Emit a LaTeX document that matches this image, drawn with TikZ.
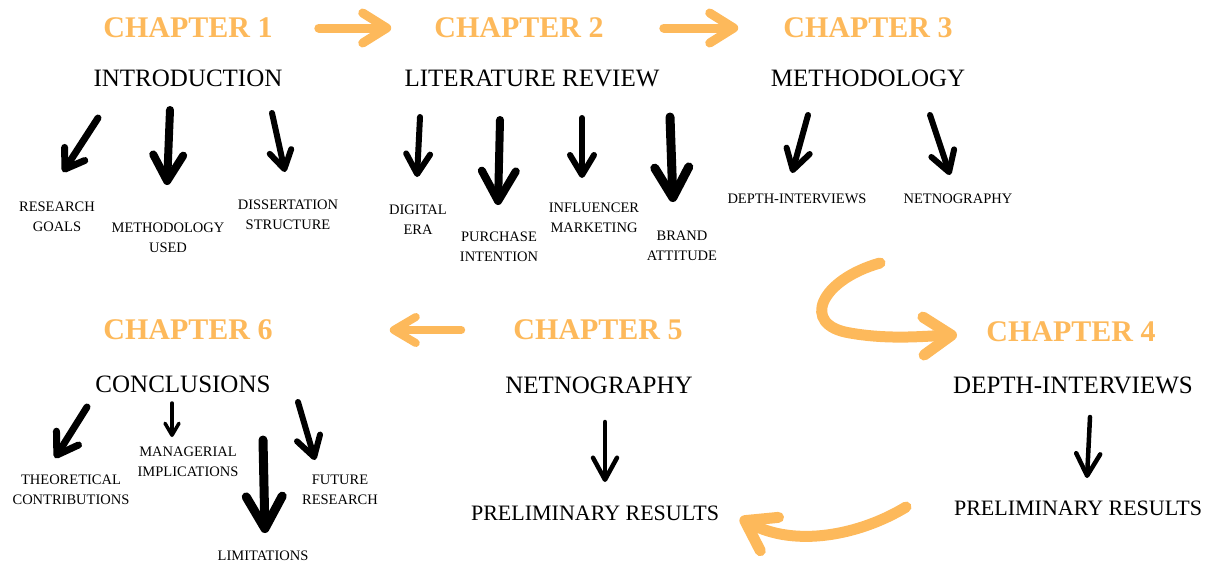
\documentclass[tikz,border=0pt]{standalone}
\usepackage{fontspec}
\setmainfont{Liberation Serif}
\usetikzlibrary{arrows.meta,positioning,calc}
\definecolor{chaporange}{HTML}{FDB95B}

\begin{document}
\begin{tikzpicture}[x=1pt,y=-1pt,
  chap/.style={font=\fontsize{30}{30}\selectfont\bfseries, text=chaporange, inner sep=0pt},
  title/.style={font=\fontsize{25}{25}\selectfont, inner sep=0pt},
  topic/.style={font=\fontsize{14.5}{20}\selectfont, align=center, inner sep=0pt},
  result/.style={font=\fontsize{22}{22}\selectfont, inner sep=0pt},
  flow/.style n args={3}{draw=chaporange, line width=#1, line cap=round,
    -{Straight Barb[round,length=#2,width=#3]}},
  sub/.style n args={3}{draw=black, line width=#1, line cap=round,
    -{Straight Barb[round,length=#2,width=#3]}}]
\useasboundingbox (0,0) rectangle (1215,565);
% Chapters
\node[chap] (ch1) at (188,28) {CHAPTER 1};
\node[chap] (ch2) at (519,28) {CHAPTER 2};
\node[chap] (ch3) at (868,28) {CHAPTER 3};
\node[chap] (ch6) at (188,330) {CHAPTER 6};
\node[chap] (ch5) at (598,330) {CHAPTER 5};
\node[chap] (ch4) at (1071,332) {CHAPTER 4};
% Titles
\node[title] (intro) at (188,78) {INTRODUCTION};
\node[title] (litrev) at (532,78) {LITERATURE REVIEW};
\node[title] (method) at (868,78) {METHODOLOGY};
\node[title] (concl) at (183,384) {CONCLUSIONS};
\node[title] (netno2) at (599,385) {NETNOGRAPHY};
\node[title] (depth2) at (1073,385) {DEPTH-INTERVIEWS};
% Topics
\node[topic] (goals) at (57,217) {RESEARCH\\GOALS};
\node[topic] (used) at (168,238) {METHODOLOGY\\USED};
\node[topic] (structure) at (288,215) {DISSERTATION\\STRUCTURE};
\node[topic] (digital) at (418,220) {DIGITAL\\ERA};
\node[topic] (purchase) at (499,247) {PURCHASE\\INTENTION};
\node[topic] (influencer) at (594,218) {INFLUENCER\\MARKETING};
\node[topic] (brand) at (682,246) {BRAND\\ATTITUDE};
\node[topic] (depth1) at (797,199) {DEPTH-INTERVIEWS};
\node[topic] (netno1) at (958,199) {NETNOGRAPHY};
\node[topic] (theoretical) at (71,490) {THEORETICAL\\CONTRIBUTIONS};
\node[topic] (managerial) at (188,462) {MANAGERIAL\\IMPLICATIONS};
\node[topic] (limitations) at (263,556) {LIMITATIONS};
\node[topic] (future) at (340,490) {FUTURE\\RESEARCH};
\node[result] (prelimL) at (595,513) {PRELIMINARY RESULTS};
\node[result] (prelimR) at (1078,508) {PRELIMINARY RESULTS};
% Chapter flow
\draw[flow={9pt}{24pt}{30pt}, shorten <=46pt, shorten >=43pt] (ch1) -- (ch2);
\draw[flow={9pt}{24pt}{30pt}, shorten <=60pt, shorten >=45pt] (ch2) -- (ch3);
\draw[flow={8pt}{22pt}{26pt}, shorten <=52pt, shorten >=117pt] (ch5) -- (ch6);
\draw[flow={11pt}{28pt}{38pt}] ($(ch3)+(12,235)$) .. controls (820,280) and (800,325) .. (850,333)
  .. controls (890,340) and (925,336) .. ($(ch4)+(-114,3)$);
\draw[flow={11pt}{28pt}{38pt}] ($(prelimR)+(-172,-1)$) .. controls (860,535) and (795,548) .. ($(prelimL)+(145,5)$);
% Topic arrows
\foreach \a/\sa/\b/\eb/\w/\l/\h in {
  intro/{-90,40}/goals/{6,-45}/7/18/24,
  intro/{-18,32}/used/{-1,-53}/8/26/30,
  intro/{84,35}/structure/{-3,-43}/6/18/22,
  litrev/{-112,39}/digital/{-1,-43}/6/20/24,
  litrev/{-32,42}/purchase/{-1,-42}/8/30/34,
  litrev/{50,40}/influencer/{-12,-40}/6/20/24,
  litrev/{138,39}/brand/{-9,-44}/9/30/34,
  method/{-60,37}/depth1/{-5,-26}/6/20/24,
  method/{62,37}/netno1/{-8,-24}/6/20/24,
  concl/{-96,23}/theoretical/{-16,-32}/7/20/26,
  concl/{-11,19}/managerial/{-16,-25}/3.5/12/14,
  concl/{80,56}/limitations/{2,-23}/9/32/36,
  concl/{115,18}/future/{-25,-30}/6/20/24,
  netno2/{6,37}/prelimL/{10,-31}/4.5/22/24,
  depth2/{17,32}/prelimR/{9,-30}/4.5/22/24} {
  \draw[sub={\w pt}{\l pt}{\h pt}] ($(\a)+(\sa)$) -- ($(\b)+(\eb)$);
}
\end{tikzpicture}
\end{document}
